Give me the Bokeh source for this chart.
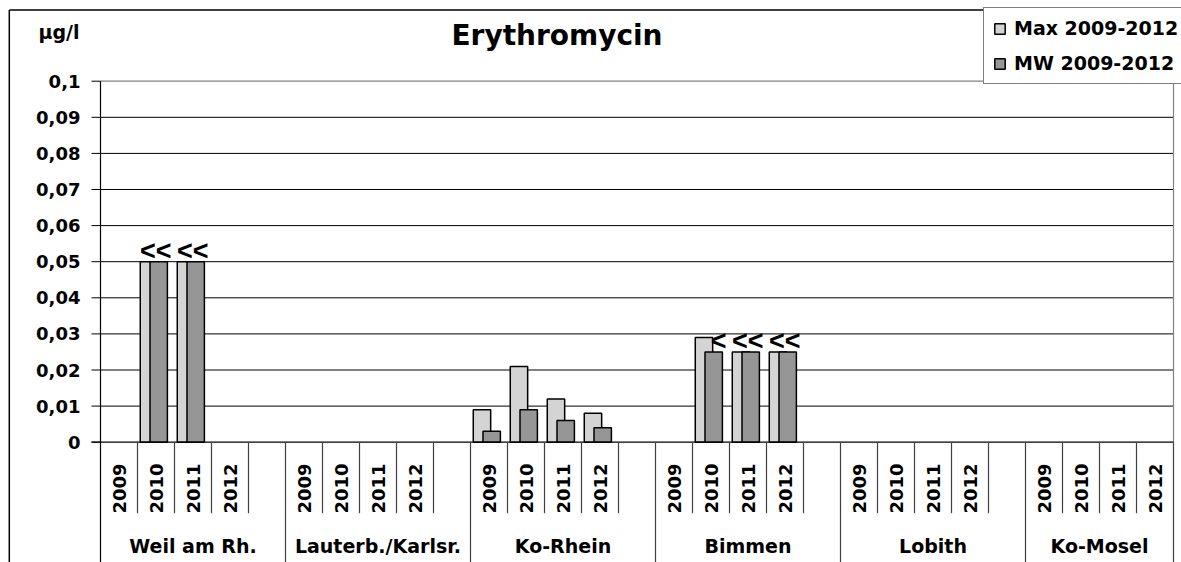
import math
from bokeh.plotting import figure
from bokeh.models import Range1d, ColumnDataSource, Legend, LegendItem
from bokeh.core.properties import value
from bokeh.embed import file_html
from bokeh.resources import INLINE

# ---------------- data ----------------
title = "Erythromycin"
unit = "µg/l"
stations = ["Weil am Rh.", "Lauterb./Karlsr.", "Ko-Rhein", "Bimmen", "Lobith", "Ko-Mosel"]
years = ["2009", "2010", "2011", "2012"]
series_names = ["Max 2009-2012", "MW 2009-2012"]

# one row per station, one entry per year (None = no value)
max_values = [
    [None, 0.05, 0.05, None],       # Weil am Rh.
    [None, None, None, None],       # Lauterb./Karlsr.
    [0.009, 0.021, 0.012, 0.008],   # Ko-Rhein
    [None, 0.029, 0.025, 0.025],    # Bimmen
    [None, None, None, None],       # Lobith
    [None, None, None, None],       # Ko-Mosel
]
mw_values = [
    [None, 0.05, 0.05, None],
    [None, None, None, None],
    [0.003, 0.009, 0.006, 0.004],
    [None, 0.025, 0.025, 0.025],
    [None, None, None, None],
    [None, None, None, None],
]
# "<" = below limit of quantification
max_below_loq = [
    [False, True, True, False],
    [False, False, False, False],
    [False, False, False, False],
    [False, False, True, True],
    [False, False, False, False],
    [False, False, False, False],
]
mw_below_loq = [
    [False, True, True, False],
    [False, False, False, False],
    [False, False, False, False],
    [False, True, True, True],
    [False, False, False, False],
    [False, False, False, False],
]
y_ticks = [0, 0.01, 0.02, 0.03, 0.04, 0.05, 0.06, 0.07, 0.08, 0.09, 0.1]
y_tick_labels = ["0", "0,01", "0,02", "0,03", "0,04", "0,05", "0,06", "0,07", "0,08", "0,09", "0,1"]
slots_per_group = [5, 5, 5, 5, 5, 4]

# ---------------- layout / style ----------------
W, H = 1181, 562
AX_X = 100.0        # x of the category axis start
SLOT = 37.0         # px per category slot
ZERO_Y = 441.7      # y of value 0
PX_PER = 3610.0     # px per unit value
FONT = value("DejaVu Sans")
LT_FONT = value("Liberation Sans")
LIGHT = "#d4d4d4"
DARK = "#969696"
BAR_W = 0.47
OFF_MAX = -0.19
OFF_MW = 0.073

def ux(px):
    return (px - AX_X) / SLOT

def vy(py):
    return (ZERO_Y - py) / PX_PER

group_start = []
s = 0
for n in slots_per_group:
    group_start.append(s)
    s += n
n_slots = s

p = figure(width=W, height=H,
           x_range=Range1d(ux(0), ux(W)), y_range=Range1d(vy(H), vy(0)),
           output_backend="svg", toolbar_location=None, title=None,
           x_axis_location=None, y_axis_location=None, min_border=0,
           outline_line_color=None, background_fill_color="white",
           border_fill_color="white")
p.grid.visible = False

# gridlines
gv = y_ticks[1:-1]
p.segment(x0=[0] * len(gv), y0=gv, x1=[n_slots] * len(gv), y1=gv, line_color="black", line_width=1)
# plot-area top and right border
p.segment(x0=[0, n_slots], y0=[y_ticks[-1], 0], x1=[n_slots, n_slots], y1=[y_ticks[-1], y_ticks[-1]],
          line_color="#808080", line_width=1.2)

# bars
def bar_source(vals, flags, off):
    xs, tops, lx, ly = [], [], [], []
    for g, row in enumerate(vals):
        for i, v in enumerate(row):
            if v is None:
                continue
            x = group_start[g] + i + 0.5 + off
            xs.append(x)
            tops.append(v)
            if flags[g][i]:
                lx.append(x)
                ly.append(v)
    return ColumnDataSource(dict(x=xs, top=tops)), lx, ly

src_max, lx_max, ly_max = bar_source(max_values, max_below_loq, OFF_MAX)
src_mw, lx_mw, ly_mw = bar_source(mw_values, mw_below_loq, OFF_MW)

r_max = p.vbar(x="x", top="top", bottom=0, width=BAR_W, source=src_max,
               fill_color=LIGHT, line_color="black", line_width=1.5)
r_mw = p.vbar(x="x", top="top", bottom=0, width=BAR_W, source=src_mw,
              fill_color=DARK, line_color="black", line_width=1.5)

# "<" labels
p.text(x=lx_max, y=ly_max, text=["<"] * len(lx_max), text_font=LT_FONT, text_font_style="bold",
       text_font_size="27px", text_align="center", text_baseline="middle",
       x_offset=-1, y_offset=-11, text_color="black")
p.text(x=lx_mw, y=ly_mw, text=["<"] * len(lx_mw), text_font=LT_FONT, text_font_style="bold",
       text_font_size="27px", text_align="center", text_baseline="middle",
       x_offset=5, y_offset=-11, text_color="black")

# value axis: axis line, ticks, left line
p.segment(x0=[ux(91)], y0=[0], x1=[n_slots], y1=[0], line_color="black", line_width=1.2)
p.segment(x0=[ux(91)] * len(y_ticks), y0=y_ticks, x1=[0] * len(y_ticks), y1=y_ticks,
          line_color="black", line_width=1)
p.segment(x0=[0], y0=[vy(H)], x1=[0], y1=[y_ticks[-1]], line_color="black", line_width=1.2)

# category separators
short_x, long_x = [], []
for g, n in enumerate(slots_per_group):
    st = group_start[g]
    short_x += [st + k for k in range(1, n)]
    long_x.append(st + n)
p.segment(x0=short_x, y0=[0] * len(short_x), x1=short_x, y1=[vy(512.7)] * len(short_x),
          line_color="#404040", line_width=1.2)
p.segment(x0=long_x, y0=[0] * len(long_x), x1=long_x, y1=[vy(H)] * len(long_x),
          line_color="#404040", line_width=1.2)

# chart-area border (left and top visible)
p.segment(x0=[ux(8.8), ux(8.8)], y0=[vy(H), vy(9.5)], x1=[ux(8.8), ux(W)], y1=[vy(9.5), vy(9.5)],
          line_color="black", line_width=1.5)

# texts
p.text(x=[ux(556.5)], y=[vy(35)], text=[title], text_font=FONT, text_font_style="bold",
       text_font_size="28px", text_align="center", text_baseline="middle", text_color="black")
p.text(x=[ux(79)], y=[vy(31)], text=[unit], text_font=FONT, text_font_style="bold",
       text_font_size="19px", text_align="right", text_baseline="middle", text_color="black")
p.text(x=[ux(80)] * len(y_ticks), y=y_ticks, text=y_tick_labels, text_font=FONT,
       text_font_style="bold", text_font_size="18px", text_align="right",
       text_baseline="middle", text_color="black")

yx, yt = [], []
for g in range(len(stations)):
    for i, yr in enumerate(years):
        yx.append(group_start[g] + i + 0.5)
        yt.append(yr)
p.text(x=yx, y=[vy(513)] * len(yx), text=yt, angle=math.pi / 2, text_font=FONT,
       text_font_style="bold", text_font_size="18px", text_align="left",
       text_baseline="middle", text_color="black")

sx = [group_start[g] + slots_per_group[g] / 2 for g in range(len(stations))]
p.text(x=sx, y=[vy(545)] * len(sx), text=stations, text_font=FONT, text_font_style="bold",
       text_font_size="19px", text_align="center", text_baseline="middle", text_color="black")

legend = Legend(items=[LegendItem(label=value(series_names[0]), renderers=[r_max]),
                       LegendItem(label=value(series_names[1]), renderers=[r_mw])],
                location=(983, 478), orientation="vertical",
                label_text_font="DejaVu Sans", label_text_font_style="bold",
                label_text_font_size="19px", label_text_color="black",
                glyph_width=13, glyph_height=13, label_standoff=8,
                padding=9, spacing=13, margin=0,
                border_line_color="black", border_line_width=1,
                background_fill_color="white", background_fill_alpha=1.0)
p.add_layout(legend)

open("out.html", "w").write(file_html(p, INLINE))
